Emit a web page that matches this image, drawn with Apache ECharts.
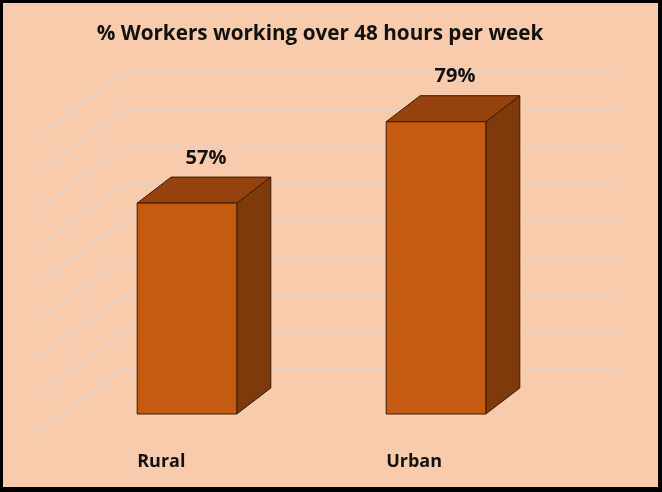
<!DOCTYPE html>
<html>
<head>
<meta charset="utf-8">
<script src="https://cdn.jsdelivr.net/npm/echarts@6/dist/echarts.min.js"></script>
<style>
    html, body { margin: 0; padding: 0; background: #F8CBAD; }
    #main { width: 662px; height: 492px; }
</style>
</head>
<body>
<div id="main"></div>
<script>
    // data
    var categories = ['Rural', 'Urban'];
    var values = [57, 79];
    var wallTicks = [0, 10, 20, 30, 40, 50, 60, 70, 80];

    var chart = echarts.init(document.getElementById('main'));

    // 3D look
    var depthX = 34, depthY = -26;      // bar depth offset
    var wallX = -86, wallY = 64;        // side wall diagonal offset
    var lineColor = '#3A1A06';

    function renderWall(params, api) {
        var p = api.coord([0, api.value(0)]);
        return {
            type: 'line',
            shape: { x1: p[0], y1: p[1], x2: p[0] + wallX, y2: p[1] + wallY },
            style: { stroke: '#E0D1CA', lineWidth: 1.6 }
        };
    }

    function renderBar(params, api) {
        var idx = api.value(0);
        var v = api.value(1);
        var base = api.coord([idx, 0]);
        var top = api.coord([idx, v]);
        var w = api.size([1, 0])[0] * 0.4;
        var x0 = base[0] - w / 2, x1 = base[0] + w / 2;
        var yb = base[1], yt = top[1];
        return {
            type: 'group',
            children: [
                {
                    type: 'polygon',
                    shape: { points: [[x1, yt], [x1 + depthX, yt + depthY], [x1 + depthX, yb + depthY], [x1, yb]] },
                    style: { fill: '#7F3A0B', stroke: lineColor, lineWidth: 1 }
                },
                {
                    type: 'polygon',
                    shape: { points: [[x0, yt], [x0 + depthX, yt + depthY], [x1 + depthX, yt + depthY], [x1, yt]] },
                    style: { fill: '#95420E', stroke: lineColor, lineWidth: 1 }
                },
                {
                    type: 'rect',
                    shape: { x: x0, y: yt, width: w, height: yb - yt },
                    style: { fill: '#C55A11', stroke: lineColor, lineWidth: 1 }
                },
                {
                    type: 'text',
                    style: {
                        x: base[0] + depthX / 2 + 2, y: yt + depthY - 19,
                        text: v + '%',
                        fill: '#111', font: 'bold 20px "Open Sans"',
                        align: 'center', verticalAlign: 'middle'
                    }
                },
                {
                    type: 'text',
                    style: {
                        x: x0, y: yb + 48,
                        text: categories[idx],
                        fill: '#111', font: 'bold 18px "Open Sans"',
                        align: 'left', verticalAlign: 'middle'
                    }
                }
            ]
        };
    }

    chart.setOption({
        backgroundColor: '#F8CBAD',
        animation: false,
        title: {
            text: '% Workers working over 48 hours per week',
            left: 315, top: 19, textAlign: 'center',
            textStyle: { fontFamily: 'Open Sans', fontWeight: 'bold', fontSize: 20.7, color: '#111' }
        },
        graphic: [
            { type: 'rect', shape: { x: 0, y: 0, width: 662, height: 3 }, style: { fill: '#000' }, z: 100 },
            { type: 'rect', shape: { x: 0, y: 0, width: 3, height: 492 }, style: { fill: '#000' }, z: 100 },
            { type: 'rect', shape: { x: 658, y: 0, width: 4, height: 492 }, style: { fill: '#000' }, z: 100 },
            { type: 'rect', shape: { x: 0, y: 487, width: 662, height: 5 }, style: { fill: '#000' }, z: 100 }
        ],
        grid: [
            { left: 123, right: 42, top: 73, bottom: 123 },
            { left: 62.5, right: 101.5, top: 118, bottom: 78 }
        ],
        xAxis: [
            { gridIndex: 0, type: 'value', min: 0, max: 1, show: false },
            { gridIndex: 1, type: 'category', data: categories, show: false }
        ],
        yAxis: [
            {
                gridIndex: 0, type: 'value', min: 0, max: 80, interval: 10,
                axisLine: { show: false }, axisTick: { show: false }, axisLabel: { show: false },
                splitLine: { show: true, lineStyle: { color: '#E0D1CA', width: 1.6 } }
            },
            { gridIndex: 1, type: 'value', min: 0, max: 80, show: false }
        ],
        series: [
            {
                type: 'custom',
                xAxisIndex: 0, yAxisIndex: 0,
                clip: false,
                renderItem: renderWall,
                data: wallTicks.map(function (t) { return [t]; }),
                encode: { y: 0 },
                z: 1
            },
            {
                type: 'custom',
                xAxisIndex: 1, yAxisIndex: 1,
                clip: false,
                renderItem: renderBar,
                data: values.map(function (v, i) { return [i, v]; }),
                z: 5
            }
        ]
    });
</script>
</body>
</html>
